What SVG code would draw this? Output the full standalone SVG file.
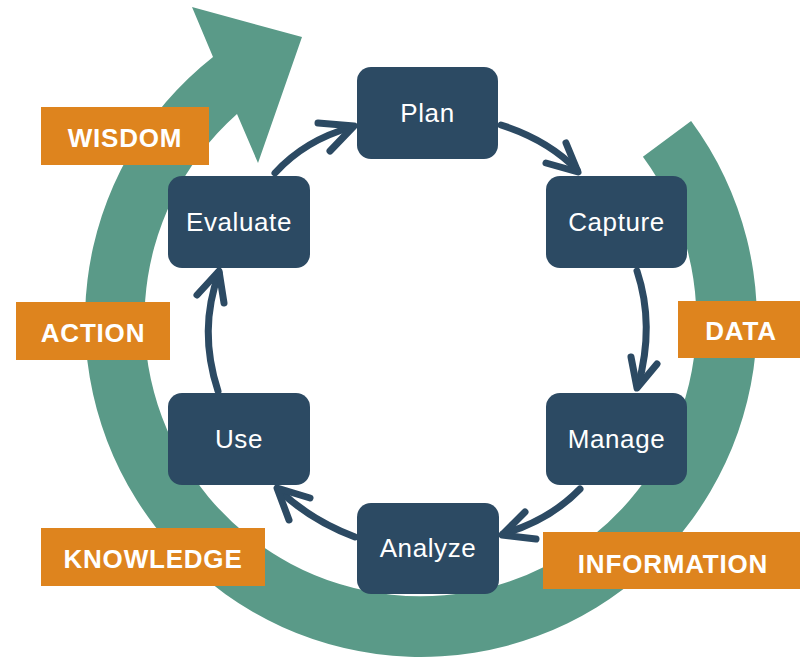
<svg xmlns="http://www.w3.org/2000/svg" width="800" height="658" viewBox="0 0 800 658">
<style>
.node rect{fill:#2C4A63}
.node text{fill:#FFFFFF;font-family:"Liberation Sans",Arial,sans-serif;font-size:26px;text-anchor:middle;letter-spacing:0.6px}
.tag rect{fill:#DE841E}
.tag text{fill:#FFFFFF;font-family:"Liberation Sans",Arial,sans-serif;font-size:26px;font-weight:bold;text-anchor:middle;letter-spacing:0.8px}
.conn path{fill:none;stroke:#2C4A63;stroke-width:7;stroke-linecap:round;stroke-linejoin:round}
</style>
<rect width="800" height="658" fill="#FFFFFF"/>
<g id="cycle-arrow">
<path d="M 691.1,121.1 A 336 336 0 1 1 213,57 L 192,7 L 302,37 L 258,163 L 237,114 A 276 276 0 1 0 642.9,156.8 Z" fill="#5A9A88"/>
</g>
<g id="tag-wisdom" class="tag"><rect x="41" y="107" width="168" height="58"/><text x="125" y="146.5">WISDOM</text></g>
<g id="tag-action" class="tag"><rect x="16" y="302" width="154" height="58"/><text x="93" y="341.5" letter-spacing="1.4">ACTION</text></g>
<g id="tag-knowledge" class="tag"><rect x="41" y="528" width="224" height="58"/><text x="153" y="567.5">KNOWLEDGE</text></g>
<g id="tag-information" class="tag"><rect x="543" y="532" width="262" height="57"/><text x="673" y="573" letter-spacing="3">INFORMATION</text></g>
<g id="tag-data" class="tag"><rect x="678" y="301" width="126" height="57"/><text x="741" y="340" letter-spacing="2.6">DATA</text></g>
<g id="connectors" class="conn">
<path d="M 501,125 Q 548,140 577,170"/><path d="M 566,143 L 578,172 L 546,163"/>
<path d="M 637,271 Q 655,325 638,386"/><path d="M 631,357 L 637,388 L 657,364"/>
<path d="M 580,489 Q 550,520 503,534"/><path d="M 525,512 L 502,535 L 536,539"/>
<path d="M 355,537 Q 310,520 279,490"/><path d="M 310,498 L 277,488 L 289,520"/>
<path d="M 218,391 Q 198,330 219,273"/><path d="M 197,295 L 219,271 L 224,303"/>
<path d="M 275,173 Q 305,140 352,127"/><path d="M 318,123 L 354,126 L 330,151"/>
</g>
<g id="node-plan" class="node"><rect x="357" y="67" width="141" height="92" rx="14"/><text x="427.5" y="121.5">Plan</text></g>
<g id="node-capture" class="node"><rect x="546" y="176" width="141" height="92" rx="14"/><text x="616.5" y="230.5">Capture</text></g>
<g id="node-manage" class="node"><rect x="546" y="393" width="141" height="92" rx="14"/><text x="616.5" y="447.5">Manage</text></g>
<g id="node-analyze" class="node"><rect x="357" y="503" width="142" height="91" rx="14"/><text x="428" y="557">Analyze</text></g>
<g id="node-use" class="node"><rect x="168" y="393" width="142" height="92" rx="14"/><text x="239" y="447.5">Use</text></g>
<g id="node-evaluate" class="node"><rect x="168" y="176" width="142" height="92" rx="14"/><text x="239" y="230.5">Evaluate</text></g>
</svg>
